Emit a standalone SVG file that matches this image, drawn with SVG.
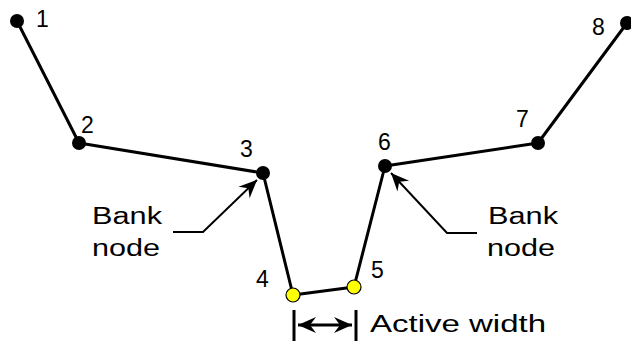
<svg xmlns="http://www.w3.org/2000/svg" width="631" height="341" viewBox="0 0 631 341">
<style>
.ln{fill:none;stroke:#000;stroke-width:3;stroke-linejoin:round}
.thin{fill:none;stroke:#000;stroke-width:2}
.bn{fill:#000}
.an{fill:#ffff00;stroke:#000;stroke-width:1.2}
text{font-family:"Liberation Sans",Arial,sans-serif;font-size:23px;fill:#000}
</style>
<defs>
<marker id="ah" markerUnits="userSpaceOnUse" viewBox="-19 -9 20 18" refX="0" refY="0" markerWidth="20" markerHeight="18" orient="auto-start-reverse">
<path d="M0,0 L-18,-8 L-12,0 L-18,8 z" fill="#000"/>
</marker>
</defs>
<rect width="631" height="341" fill="#fff"/>
<g id="connectors">
<polyline class="ln" points="17,21 79,143 263,173 293,295 354,287 385,166 538,143 627,23"/>
<polyline class="thin" points="173,232 203,232 257,180" marker-end="url(#ah)"/>
<polyline class="thin" points="477,233 447,233 391,173" marker-end="url(#ah)"/>
<line class="ln" x1="294" y1="310" x2="294" y2="341"/>
<line class="ln" x1="356" y1="310" x2="356" y2="341"/>
<line x1="298" y1="325" x2="352" y2="325" stroke="#000" stroke-width="3" marker-start="url(#ah)" marker-end="url(#ah)"/>
</g>
<g id="n1"><circle class="bn" cx="17" cy="21" r="7"/><text x="36" y="27">1</text></g>
<g id="n2"><circle class="bn" cx="79" cy="143" r="7"/><text x="81" y="133">2</text></g>
<g id="n3"><circle class="bn" cx="263" cy="173" r="7"/><text x="240" y="157">3</text></g>
<g id="n4"><circle class="an" cx="293" cy="295" r="7"/><text x="256" y="287">4</text></g>
<g id="n5"><circle class="an" cx="354" cy="287" r="7"/><text x="371" y="278">5</text></g>
<g id="n6"><circle class="bn" cx="385" cy="166" r="7"/><text x="378" y="150">6</text></g>
<g id="n7"><circle class="bn" cx="538" cy="143" r="7"/><text x="516" y="127">7</text></g>
<g id="n8"><circle class="bn" cx="627" cy="23" r="7"/><text x="592" y="35">8</text></g>
<g id="lbl-bank-left"><text x="92" y="224" textLength="70" lengthAdjust="spacingAndGlyphs">Bank</text><text x="92" y="256" textLength="68" lengthAdjust="spacingAndGlyphs">node</text></g>
<g id="lbl-bank-right"><text x="488" y="224" textLength="70" lengthAdjust="spacingAndGlyphs">Bank</text><text x="487" y="256" textLength="68" lengthAdjust="spacingAndGlyphs">node</text></g>
<g id="lbl-active"><text x="370" y="332" textLength="176" lengthAdjust="spacingAndGlyphs">Active width</text></g>
</svg>
